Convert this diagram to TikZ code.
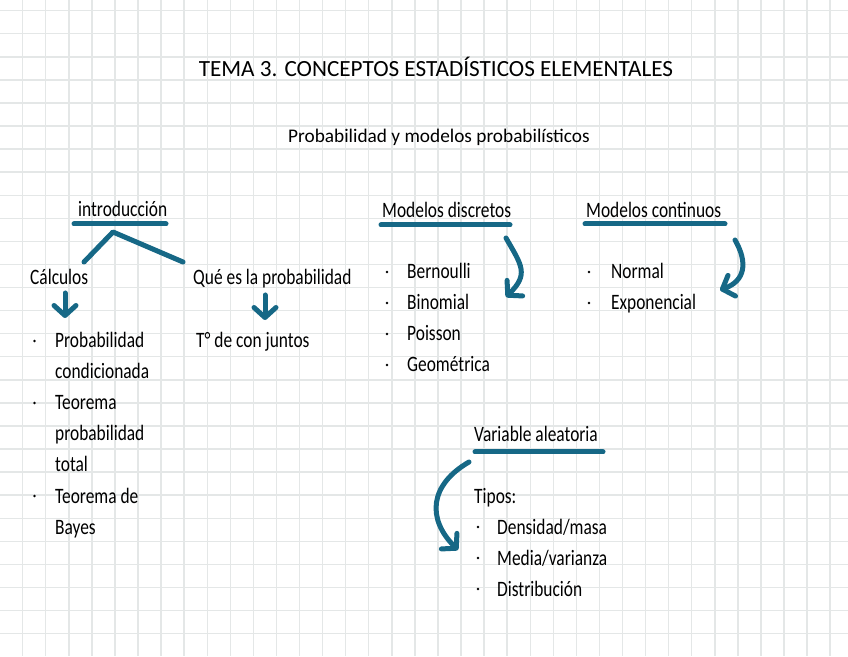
\documentclass[tikz,border=0pt]{standalone}
\usepackage{fontspec}
\setmainfont{Carlito}
\newfontfamily\mano{Carlito}[FakeStretch=0.79]
\usepackage{tikz}
\usetikzlibrary{positioning,arrows.meta}
\definecolor{tinta}{RGB}{22,104,134}
\definecolor{cuadro}{RGB}{228,231,231}

\begin{document}
\begin{tikzpicture}[x=1pt,y=1pt,
    texto/.style={inner sep=0pt,anchor=base west,font=\mano\fontsize{22}{26}\selectfont},
    titulo/.style={inner sep=0pt,anchor=base,font=\fontsize{23.2}{27}\selectfont},
    ink/.style={draw=tinta,line width=5pt,line cap=round,line join=round},
    flecha/.style={ink,-{Straight Barb[length=10pt,width=22pt,round]}},
    punto/.style={circle,fill=black,inner sep=0pt,minimum size=2.6pt}]
    \useasboundingbox (0,0) rectangle (848,656);
    % cuadricula
    \foreach \i in {0,...,36} \draw[cuadro,line width=1.4pt] ({22.7+23.07*\i},0) -- ++(0,656);
    \foreach \j in {0,...,27} \draw[cuadro,line width=1.4pt] (0,{645.3-23.07*\j}) -- ++(848,0);

    \node[titulo] (tema) at (436,579) {TEMA 3. CONCEPTOS ESTADÍSTICOS ELEMENTALES};
    \node[titulo,font=\fontsize{19.3}{23}\selectfont] (sub) at (439,513) {Probabilidad y modelos probabilísticos};

    % introduccion
    \node[texto] (intro) at (78,439) {introducción};
    \node[texto] (calc) at (30,371) {Cálculos};
    \node[texto] (que) at (193,371) {Qué es la probabilidad};
    \node[texto] (conj) at (196,308) {T° de con juntos};
    \draw[ink] ([shift={(-4,-7)}]intro.base west) -- ++(92,0);
    \coordinate (cima) at ([shift={(35,-15)}]intro.base west);
    \draw[ink] ([shift={(54,23)}]calc.base west) -- (cima) -- ([shift={(-10,23)}]que.base west);
    \draw[flecha] ([shift={(35,-8)}]calc.base west) -- ++(0,-25);
    \draw[flecha] ([shift={(72,-10)}]que.base west) -- ++(0,-25);
    \foreach \t [count=\i] in {Probabilidad,condicionada,Teorema,probabilidad,total,Teorema de,Bayes}
        \node[texto] (c\i) at (55,{339-31*\i}) {\t};
    \foreach \i in {1,3,6} \node[punto] (bc\i) at ([shift={(-20.5,7)}]c\i.base west) {};

    % modelos discretos
    \node[texto] (disc) at (382,438) {Modelos discretos};
    \draw[ink] ([shift={(-1,-7)}]disc.base west) -- ++(129,0);
    \foreach \t [count=\i] in {Bernoulli,Binomial,Poisson,Geométrica} {
        \node[texto] (d\i) at (407,{408-31*\i}) {\t};
        \node[punto] (bd\i) at ([shift={(-20,7)}]d\i.base west) {};
    }
    \draw[flecha] ([shift={(124,-20)}]disc.base west) to[out=-60,in=45,looseness=1.4] ([shift={(124,-79)}]disc.base west);

    % modelos continuos
    \node[texto] (cont) at (586,438) {Modelos continuos};
    \draw[ink] ([shift={(-1,-6)}]cont.base west) -- ++(140,0);
    \foreach \t [count=\i] in {Normal,Exponencial} {
        \node[texto] (n\i) at (611,{408-31*\i}) {\t};
        \node[punto] (bn\i) at ([shift={(-22,7)}]n\i.base west) {};
    }
    \draw[flecha] ([shift={(149,-22)}]cont.base west) to[out=-60,in=20,looseness=1.3] ([shift={(134,-72)}]cont.base west);

    % variable aleatoria
    \node[texto] (var) at (474,214) {Variable aleatoria};
    \draw[ink] ([shift={(1,-10)}]var.base west) -- ++(128,0);
    \node[texto] (tipos) at (474,153) {Tipos:};
    \foreach \t [count=\i] in {Densidad/masa,Media/varianza,Distribución} {
        \node[texto] (v\i) at (497,{153-31*\i}) {\t};
        \node[punto] (bv\i) at ([shift={(-19,7)}]v\i.base west) {};
    }
    \draw[flecha] ([shift={(-5,-20)}]var.base west) to[out=210,in=135,looseness=1.3] ([shift={(-16,-108)}]var.base west);
\end{tikzpicture}
\end{document}
